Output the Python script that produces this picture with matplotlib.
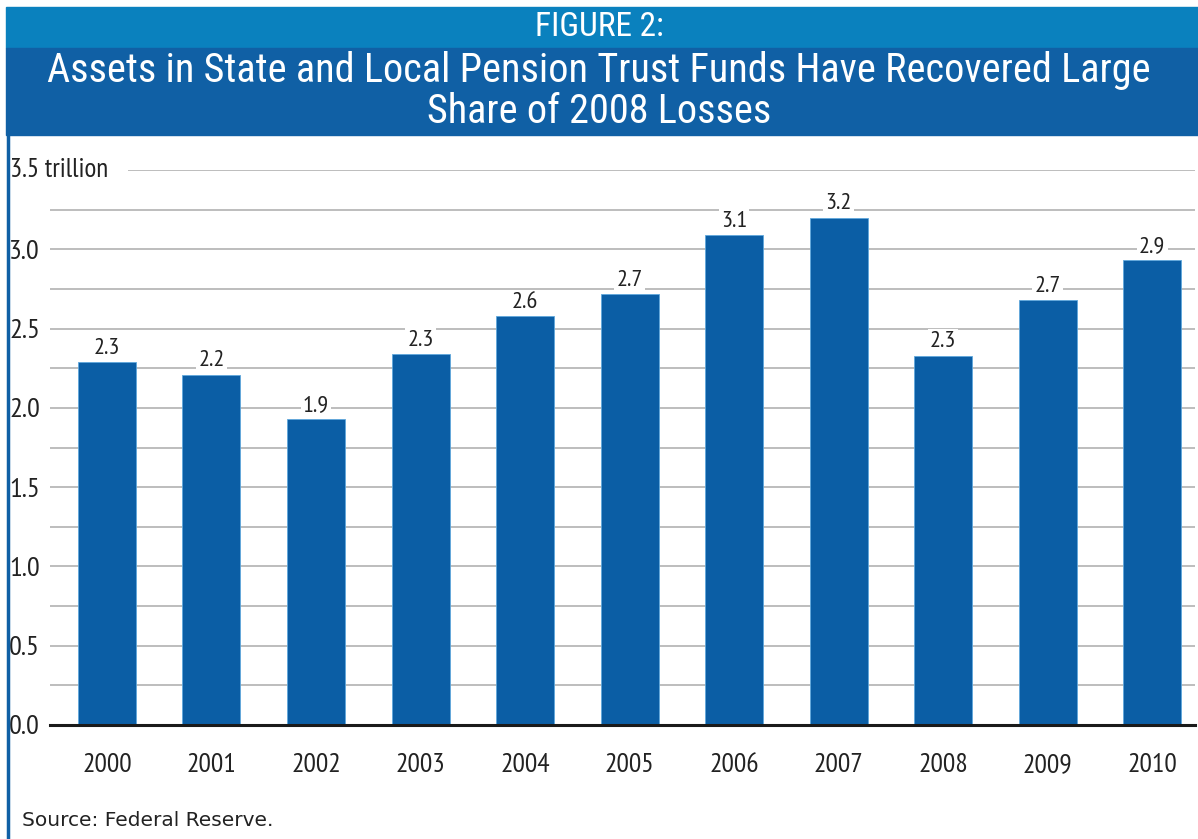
import matplotlib
matplotlib.use("Agg")
import matplotlib.pyplot as plt
from matplotlib.patches import Rectangle
from matplotlib.lines import Line2D
import numpy as np

years = ["2000", "2001", "2002", "2003", "2004", "2005",
         "2006", "2007", "2008", "2009", "2010"]
assets = [2.29, 2.21, 1.93, 2.34, 2.58, 2.72, 3.09, 3.20, 2.33, 2.68, 2.93]
ytick_vals = [0.0, 0.5, 1.0, 1.5, 2.0, 2.5, 3.0]
ytick_labels = ["0.0", "0.5", "1.0", "1.5", "2.0", "2.5", "3.0"]

fig_label = "FIGURE 2:"
title = "Assets in State and Local Pension Trust Funds Have Recovered Large\nShare of 2008 Losses"
source = "Source: Federal Reserve."

NARROW = ["PT Sans Narrow", "DejaVu Sans"]
HEAD = ["Roboto Condensed", "DejaVu Sans"]
BAR = "#0b5ea5"
LIGHT_BAND = "#0a81be"
DARK_BAND = "#1060a5"
TXT = "#222222"

W, H = 1198, 839
fig = plt.figure(figsize=(W / 100, H / 100), dpi=100)
fig.patch.set_facecolor("white")

# header bands
fig.patches.append(Rectangle((6 / W, 1 - 48 / H), 1 - 6 / W, 41 / H,
                             transform=fig.transFigure, color=LIGHT_BAND, zorder=0))
fig.patches.append(Rectangle((6 / W, 1 - 135 / H), 1 - 6 / W, 87 / H,
                             transform=fig.transFigure, color=DARK_BAND, zorder=0))
# left frame rule
fig.lines.append(Line2D([7.5 / W, 7.5 / W], [0, 1 - 135 / H], transform=fig.transFigure,
                        color=DARK_BAND, lw=2.5))

fig.text(0.5, 1 - 27 / H, fig_label, ha="center", va="center", color="white",
         fontsize=24, family=HEAD)
fig.text(0.5, 1 - 91 / H, title, ha="center", va="center", color="white",
         fontsize=29, family=HEAD, linespacing=1.08)
fig.text(22 / W, 1 - 820 / H, source, ha="left", va="center", color=TXT,
         fontsize=14.5, family=["DejaVu Sans"])

ax = fig.add_axes([50 / W, 1 - 725 / H, 1145 / W, 555 / H])
x = np.arange(len(years))
ax.bar(x, assets, width=0.555, color=BAR, edgecolor="#5fa8dc", linewidth=0.6, zorder=4)
ax.set_xlim(-0.545, 10.41)
ax.set_ylim(0, 3.5)

for v in np.arange(0.25, 3.51, 0.25):
    ax.axhline(v, color="#bdbdbd", lw=1.4, zorder=1)
ax.axhline(0, color="#1a1a1a", lw=2.2, zorder=5, clip_on=False)

# value labels sit on a white patch that breaks the gridlines behind them
for xi, v in zip(x, assets):
    ax.text(xi, v + 0.02, f"{v:.1f}", ha="center", va="bottom", fontsize=17.5,
            family=NARROW, color=TXT, zorder=3,
            bbox=dict(facecolor="white", edgecolor="none", pad=1.5))

for sp in ax.spines.values():
    sp.set_visible(False)
ax.set_xticks(x)
ax.set_xticklabels(years, fontsize=20, family=NARROW, color=TXT)
ax.tick_params(axis="x", length=0, pad=20)
ax.set_yticks(ytick_vals)
ax.set_yticklabels(ytick_labels, fontsize=20.5, family=NARROW, color=TXT, ha="left")
ax.tick_params(axis="y", length=0, pad=29.5)

ax.text(-40 / 1145, 3.5, "3.5 trillion", transform=ax.get_yaxis_transform(),
        ha="left", va="center", fontsize=19.5, family=NARROW, color=TXT, zorder=5,
        clip_on=False, bbox=dict(facecolor="white", edgecolor="none", pad=14))

fig.savefig("out.png", dpi=100)
